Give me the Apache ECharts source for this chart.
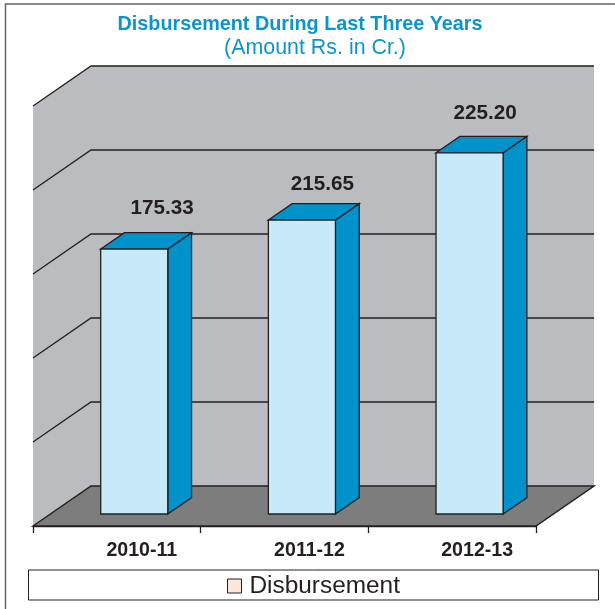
<!DOCTYPE html>
<html><head><meta charset="utf-8">
<style>html,body{margin:0;padding:0;background:#fff}#c{width:615px;height:609px}</style>
<script src="https://cdn.jsdelivr.net/npm/echarts@6/dist/echarts.min.js"></script>
</head><body><div id="c"></div>
<script>
const categories = ['2010-11', '2011-12', '2012-13'];
// Bar heights as read against the gridlines (the printed labels do not match them in the picture).
const barValues = [157.7, 175, 215];
const barLabels = ['175.33', '215.65', '225.20'];
const axisTicks = [0, 50, 100, 150, 200, 250];
const seriesName = 'Disbursement';

const DX = 58, DY = 40;            // full depth of the floor
const barD0 = 12 / 40, barD1 = 28.4 / 40; // bar front / back position within the depth
const barFrac = 0.4;
const labelNudge = [28, 20.5, 15.5];
const labelLift = [24.5, 19.5, 23.5];
const LINE = '#231F20', WALL = '#BBBCBF', FLOOR = '#7D7D7D', FRONT = '#C7E9FA', SIDE = '#0093CB', BLUE = '#0A95CC';

function poly(points, fill, stroke, lw) {
  return { type: 'polygon', shape: { points }, style: { fill: fill, stroke: stroke || null, lineWidth: lw || 0 } };
}
function renderWall(params, api) {
  const cs = params.coordSys, L = cs.x, R = cs.x + cs.width;
  const y = api.coord([0, api.value(1)])[1];
  const children = [];
  if (params.dataIndex === 0) {
    const top = api.coord([0, axisTicks[axisTicks.length - 1]])[1];
    children.push(poly([[L + DX, top - DY], [R + DX, top - DY], [R + DX, y - DY], [L + DX, y - DY]], WALL));
    children.push(poly([[L, top], [L + DX, top - DY], [L + DX, y - DY], [L, y]], WALL));
    children.push(poly([[L, y], [L + DX, y - DY], [R + DX, y - DY], [R, y]], FLOOR, LINE, 1.5));
  } else {
    children.push({ type: 'polyline', shape: { points: [[L, y], [L + DX, y - DY], [R + DX, y - DY]] },
      style: { fill: null, stroke: LINE, lineWidth: 1.3 } });
  }
  return { type: 'group', children };
}
function renderBar(params, api) {
  const i = api.value(0), v = api.value(1);
  const c = api.coord([i, 0]), t = api.coord([i, v]);
  const w = api.size([1, 0])[0] * barFrac;
  const ox = DX * barD0, oy = DY * barD0, dx = DX * (barD1 - barD0), dy = DY * (barD1 - barD0);
  const x0 = c[0] + ox - w / 2, x1 = x0 + w, yb = c[1] - oy, yt = t[1] - oy;
  return { type: 'group', children: [
    poly([[x1, yt], [x1 + dx, yt - dy], [x1 + dx, yb - dy], [x1, yb]], SIDE, LINE, 1.3),
    poly([[x0, yt], [x0 + dx, yt - dy], [x1 + dx, yt - dy], [x1, yt]], SIDE, LINE, 1.3),
    poly([[x0, yt], [x1, yt], [x1, yb], [x0, yb]], FRONT, LINE, 1.3),
    { type: 'text', x: (x0 + x1) / 2 + labelNudge[i], y: yt - dy - labelLift[i],
      style: { text: barLabels[i], fill: LINE, font: 'bold 20.7px "Liberation Sans"', align: 'center', verticalAlign: 'middle' } }
  ] };
}

const chart = echarts.init(document.getElementById('c'), null, { renderer: 'canvas' });
chart.setOption({
  animation: false,
  backgroundColor: '#fff',
  title: [
    { text: 'Disbursement During Last Three Years', left: 295, top: 10, textAlign: 'center',
      textStyle: { color: BLUE, fontFamily: 'Liberation Sans', fontWeight: 'bold', fontSize: 19.8 } },
    { text: '(Amount Rs. in Cr.)', left: 310, top: 33, textAlign: 'center',
      textStyle: { color: BLUE, fontFamily: 'Liberation Sans', fontWeight: 'normal', fontSize: 21.4 } }
  ],
  grid: { left: 33, width: 503, top: 106, height: 420, containLabel: false },
  xAxis: { type: 'category', data: categories,
    axisLine: { lineStyle: { color: LINE, width: 1.3 } },
    axisTick: { show: true, length: 7, alignWithLabel: false, lineStyle: { color: LINE, width: 1.3 } },
    axisLabel: { color: LINE, fontFamily: 'Liberation Sans', fontWeight: 'bold', fontSize: 19.6, margin: 15, padding: [0, 0, 0, 50], interval: 0 }
  },
  yAxis: { type: 'value', min: 0, max: 250, interval: 50, show: false, splitLine: { show: false } },
  legend: { show: true, data: [{ name: seriesName, icon: 'rect', itemStyle: { color: '#FDE6DC', borderColor: LINE, borderWidth: 1 } }],
    left: 227, top: 574, itemWidth: 14, itemHeight: 14, itemGap: 0, selectedMode: false, padding: 0,
    textStyle: { color: LINE, fontFamily: 'Liberation Sans', fontSize: 24.4, padding: [0, 0, 0, 3] } },
  graphic: [
    { type: 'rect', shape: { x: 5.5, y: 4, width: 700, height: 700 }, style: { fill: null, stroke: '#666', lineWidth: 1.5 }, silent: true },
    { type: 'rect', shape: { x: 28.5, y: 570, width: 570, height: 30 }, style: { fill: '#fff', stroke: LINE, lineWidth: 1 }, silent: true, z: -1 }
  ],
  series: [
    { type: 'custom', name: 'grid', renderItem: renderWall, encode: { x: 0, y: 1 }, silent: true, z: 1,
      data: axisTicks.map(t => [0, t]) },
    { type: 'custom', name: seriesName, renderItem: renderBar, encode: { x: 0, y: 1 }, silent: true, z: 2,
      itemStyle: { color: '#FDE6DC' },
      data: barValues.map((v, i) => [i, v]) }
  ]
});
</script></body></html>
